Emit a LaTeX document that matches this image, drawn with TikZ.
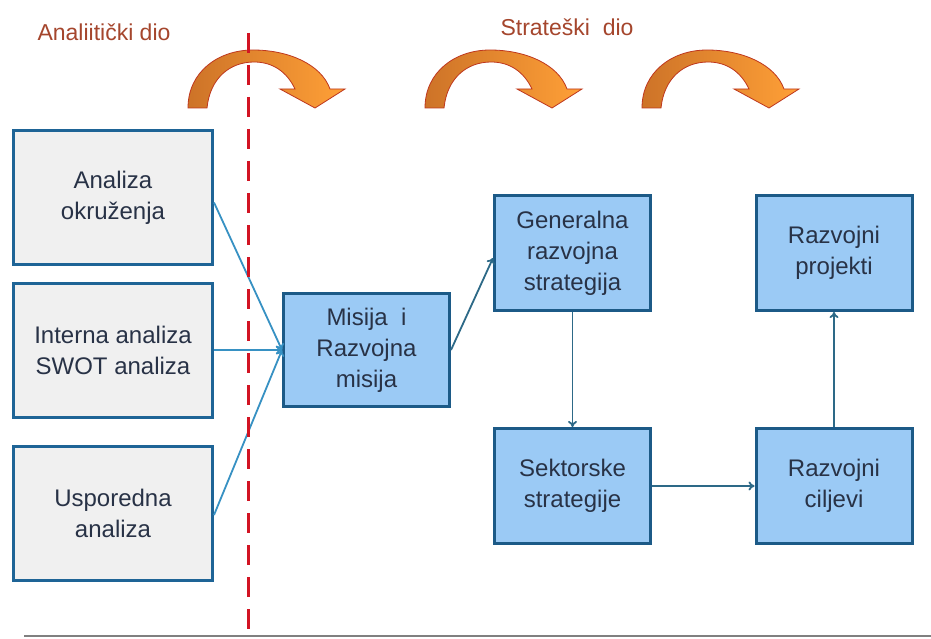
\documentclass[tikz,border=0pt]{standalone}
\usepackage{fontspec}
\setmainfont{Liberation Sans}
\usetikzlibrary{arrows.meta}
\definecolor{grayfill}{RGB}{240,240,240}
\definecolor{grayedge}{RGB}{30,100,150}
\definecolor{bluefill}{RGB}{155,202,245}
\definecolor{blueedge}{RGB}{28,90,135}
\definecolor{txt}{RGB}{40,50,70}
\definecolor{connlight}{RGB}{55,145,195}
\definecolor{conndark}{RGB}{45,105,135}
\definecolor{labred}{RGB}{165,70,45}
\definecolor{arrdark}{RGB}{205,115,40}
\definecolor{arrlight}{RGB}{255,160,55}
\definecolor{arredge}{RGB}{190,55,30}
\definecolor{dashred}{RGB}{210,20,35}
\definecolor{basegray}{RGB}{128,128,128}
\begin{document}
\begin{tikzpicture}[x=1pt,y=-1pt,
  boxbase/.style={draw, line width=3pt, align=center, text=txt, inner sep=0pt,
    font=\fontsize{24}{31}\selectfont},
  graybox/.style={boxbase, draw=grayedge, fill=grayfill, minimum width=199pt, minimum height=134pt},
  bluebox/.style={boxbase, draw=blueedge, fill=bluefill},
  misbox/.style={bluebox, minimum width=166pt, minimum height=113pt},
  stratbox/.style={bluebox, minimum width=156pt, minimum height=115pt},
  connA/.style={draw=connlight, line width=1.8pt, -{To[length=6pt,width=9pt]}},
  connB/.style={draw=conndark, line width=1.8pt, -{To[length=6pt,width=9pt]}},
  toplabel/.style={text=labred, font=\fontsize{23}{28}\selectfont, inner sep=0pt},
  dashline/.style={draw=dashred, line width=3pt, dash pattern=on 20pt off 12pt},
  baseline/.style={draw=basegray, line width=2pt},
  curvarrow/.pic={
    \draw[arredge, line width=0.8pt, left color=arrdark, right color=arrlight]
      (0,58) .. controls (0,22) and (30,0) .. (65,0)
      .. controls (100,0) and (133,14) .. (142,39)
      -- (157,39) -- (127,58) -- (92,39) -- (107,39)
      .. controls (99,22) and (85,12) .. (66,12)
      .. controls (42,12) and (22,28) .. (19,58) -- cycle;
  }]
\useasboundingbox (0,0) rectangle (931,639);
\fill[white] (0,0) rectangle (931,639);

% top labels
\node[toplabel] (lab1) at (104,32) {Analiitički dio};
\node[toplabel] (lab2) at (567,27) {Strateški\ \ dio};

% curved arrows
\pic (ca1) at (188,50) {curvarrow};
\pic (ca2) at (425,50) {curvarrow};
\pic (ca3) at (642,50) {curvarrow};

% boxes
\node[graybox] (a1) at (113,197.5) {Analiza\\okruženja};
\node[graybox] (a2) at (113,350) {Interna analiza\\SWOT analiza};
\node[graybox] (a3) at (113,513) {Usporedna\\analiza};
\node[misbox] (mis) at (366.5,350) {Misija\ \ i\\Razvojna\\misija};
\node[stratbox] (gen) at (572.5,253) {Generalna\\razvojna\\strategija};
\node[stratbox] (proj) at (834,253) {Razvojni\\projekti};
\node[stratbox] (sek) at (572.5,486) {Sektorske\\strategije};
\node[stratbox] (cilj) at (834,486) {Razvojni\\ciljevi};

% connectors
\draw[connA] ([yshift=-5pt]a1.east) -- (mis.west);
\draw[connA] (a2.east) -- (mis.west);
\draw[connA] ([yshift=-2pt]a3.east) -- (mis.west);
\draw[connB] (mis.east) -- ([yshift=-5pt]gen.west);
\draw[connB] (gen.south) -- (sek.north);
\draw[connB] (sek.east) -- (cilj.west);
\draw[connB] (cilj.north) -- (proj.south);

% dashed divider and base line
\coordinate (dtop) at (248,33);
\coordinate (dbot) at (248,636);
\draw[dashline] (dtop) -- (dbot);
\coordinate (bl) at (24,636);
\coordinate (br) at (931,636);
\draw[baseline] (bl) -- (br);
\end{tikzpicture}
\end{document}
